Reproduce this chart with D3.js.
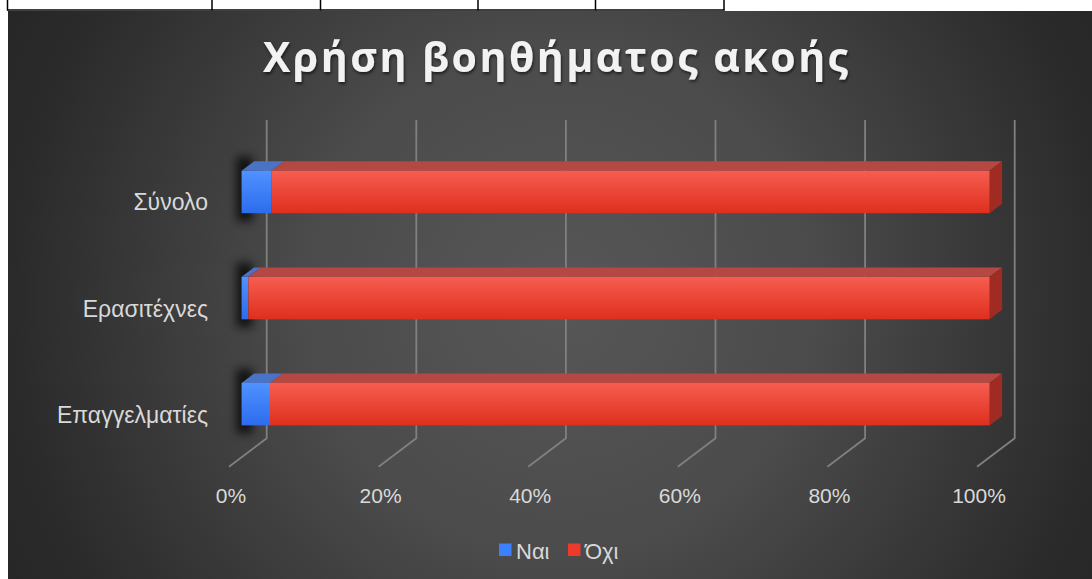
<!DOCTYPE html>
<html>
<head>
<meta charset="utf-8">
<script src="https://cdn.jsdelivr.net/npm/d3@7"></script>
<style>
  html, body { margin: 0; padding: 0; background: #ffffff; }
  svg { display: block; }
</style>
</head>
<body>
<svg id="chart" width="1092" height="579"></svg>
<script>
// Hearing-aid usage by group (percent of respondents)
const categories = ["Σύνολο", "Ερασιτέχνες", "Επαγγελματίες"];
const yesValues = [4.0, 0.9, 3.8];    // Ναι
const noValues  = [96.0, 99.1, 96.2]; // Όχι
const seriesNames = ["Ναι", "Όχι"];
const tickValues = [0, 20, 40, 60, 80, 100];
const titleText = "Χρήση βοηθήματος ακοής";

const W = 1092, H = 579;
const svg = d3.select("#chart");
const defs = svg.append("defs");

// Table strip above the chart
svg.append("rect").attr("x", 0).attr("y", 0).attr("width", W).attr("height", 11).attr("fill", "#ffffff");
const tableCols = [7.5, 212, 320.5, 478, 595.5, 724];
svg.append("line").attr("x1", 7).attr("x2", 724.5).attr("y1", 10).attr("y2", 10)
  .attr("stroke", "#000").attr("stroke-width", 1.5);
tableCols.forEach(x => svg.append("line").attr("x1", x).attr("x2", x).attr("y1", 0).attr("y2", 10.5)
  .attr("stroke", "#000").attr("stroke-width", 1.5));

// Chart background
const bg = defs.append("radialGradient").attr("id", "bgGrad")
  .attr("gradientUnits", "userSpaceOnUse").attr("cx", 560).attr("cy", 300).attr("r", 640);
bg.append("stop").attr("offset", 0).attr("stop-color", "#575757");
bg.append("stop").attr("offset", 0.4).attr("stop-color", "#4b4b4b");
bg.append("stop").attr("offset", 0.85).attr("stop-color", "#2b2b2b");
bg.append("stop").attr("offset", 1).attr("stop-color", "#252525");
svg.append("rect").attr("x", 8).attr("y", 11).attr("width", W - 8).attr("height", H - 11)
  .attr("fill", "url(#bgGrad)");

// Oblique 3D projection: depth z in [0,1] shifts right and up
const DEPTH = [37.7, -28.4];
const P = (x, y, z) => [x + DEPTH[0] * z, y + DEPTH[1] * z];
const pts = arr => arr.map(p => p.join(",")).join(" ");

const x = d3.scaleLinear().domain([0, 100]).range([229, 977]);
const y = d3.scaleBand().domain(categories).range([148.4, 466.7]).paddingInner(0.6).paddingOuter(0.3);
const yFloor = 466.7, yCeil = 148.4;
const z0 = 1 / 3, z1 = 2 / 3;

// Gridlines on back wall + floor
const grid = svg.append("g").attr("fill", "none").attr("stroke", "#808080").attr("stroke-width", 1.8);
tickValues.forEach(t => {
  const a = P(x(t), yCeil, 1), b = P(x(t), yFloor, 1), c = P(x(t), yFloor, 0);
  grid.append("polyline").attr("points", pts([a, b, c]));
});

// Tick labels
svg.append("g").selectAll("text").data(tickValues).join("text")
  .attr("x", d => x(d) + 2).attr("y", 503)
  .attr("text-anchor", "middle")
  .attr("font-family", "Liberation Sans, Arial, sans-serif").attr("font-size", 21)
  .attr("fill", "#d9d9d9")
  .text(d => d + "%");

// Category labels
svg.append("g").selectAll("text").data(categories).join("text")
  .attr("x", 208).attr("y", d => y(d) + y.bandwidth() / 2 + 9)
  .attr("text-anchor", "end")
  .attr("font-family", "Liberation Sans, Arial, sans-serif").attr("font-size", 23)
  .attr("fill", "#d9d9d9")
  .text(d => d);

// Gradients and shadow
function vGrad(id, top, bottom) {
  const g = defs.append("linearGradient").attr("id", id).attr("x1", 0).attr("y1", 0).attr("x2", 0).attr("y2", 1);
  g.append("stop").attr("offset", 0).attr("stop-color", top);
  g.append("stop").attr("offset", 1).attr("stop-color", bottom);
}
vGrad("blueFront", "#4f92ff", "#2c6cee");
vGrad("redFront", "#f65d50", "#df2f1e");
defs.append("filter").attr("id", "shadowBlur").attr("x", "-80%").attr("y", "-50%").attr("width", "260%").attr("height", "200%")
  .append("feGaussianBlur").attr("stdDeviation", 5);

const colors = {
  front: ["url(#blueFront)", "url(#redFront)"],
  top: ["#4a73c6", "#b54842"],
  side: ["#2a55b0", "#9f2b22"]
};

const stacks = categories.map((c, i) => {
  const vals = [yesValues[i], noValues[i]];
  let acc = 0;
  return vals.map((v, k) => { const s = { cat: c, k, v0: acc, v1: acc + v }; acc += v; return s; });
});

const bars = svg.append("g");
stacks.forEach(segs => {
  const cat = segs[0].cat;
  const yt = y(cat), yb = y(cat) + y.bandwidth();
  // soft shadow along the left edge
  const sa = P(x(0), yt, z0);
  bars.append("rect")
    .attr("x", sa[0] - 5).attr("y", sa[1] - 14)
    .attr("width", 16).attr("height", (yb - yt) + 22)
    .attr("fill", "#000").attr("opacity", 0.75)
    .attr("filter", "url(#shadowBlur)");
});
stacks.forEach(segs => {
  const cat = segs[0].cat;
  const yt = y(cat), yb = y(cat) + y.bandwidth();
  segs.forEach((s, idx) => {
    const xa = x(s.v0), xb = x(s.v1);
    const g = bars.append("g");
    // top face
    g.append("polygon").attr("fill", colors.top[s.k])
      .attr("points", pts([P(xa, yt, z0), P(xb, yt, z0), P(xb, yt, z1), P(xa, yt, z1)]));
    // right face only for the last segment
    if (idx === segs.length - 1) {
      g.append("polygon").attr("fill", colors.side[s.k])
        .attr("points", pts([P(xb, yt, z0), P(xb, yt, z1), P(xb, yb, z1), P(xb, yb, z0)]));
    }
    // front face
    const f = P(xa, yt, z0);
    g.append("rect").attr("x", f[0]).attr("y", f[1])
      .attr("width", xb - xa).attr("height", yb - yt)
      .attr("fill", colors.front[s.k]);
  });
});

// Title
defs.append("filter").attr("id", "titleShadow").attr("x", "-10%").attr("y", "-30%").attr("width", "120%").attr("height", "160%")
  .append("feDropShadow").attr("dx", 1).attr("dy", 2).attr("stdDeviation", 1.5)
  .attr("flood-color", "#000").attr("flood-opacity", 0.6);
svg.append("text")
  .attr("x", 263).attr("y", 72)
  .attr("textLength", 585).attr("lengthAdjust", "spacing")
  .attr("font-family", "Open Sans, Noto Sans, sans-serif").attr("font-weight", "bold").attr("font-size", 41)
  .attr("fill", "#f2f2f2")
  .attr("filter", "url(#titleShadow)")
  .text(titleText);

// Legend
const legendColors = ["#3b80ff", "#ec3b2c"];
const legendX = [499, 568];
const legend = svg.append("g");
seriesNames.forEach((n, i) => {
  legend.append("rect").attr("x", legendX[i]).attr("y", 543.5).attr("width", 12.5).attr("height", 12.5)
    .attr("fill", legendColors[i]);
  legend.append("text").attr("x", legendX[i] + 17).attr("y", 558.5)
    .attr("font-family", "Liberation Sans, Arial, sans-serif").attr("font-size", 22)
    .attr("fill", "#d9d9d9").text(n);
});
</script>
</body>
</html>
